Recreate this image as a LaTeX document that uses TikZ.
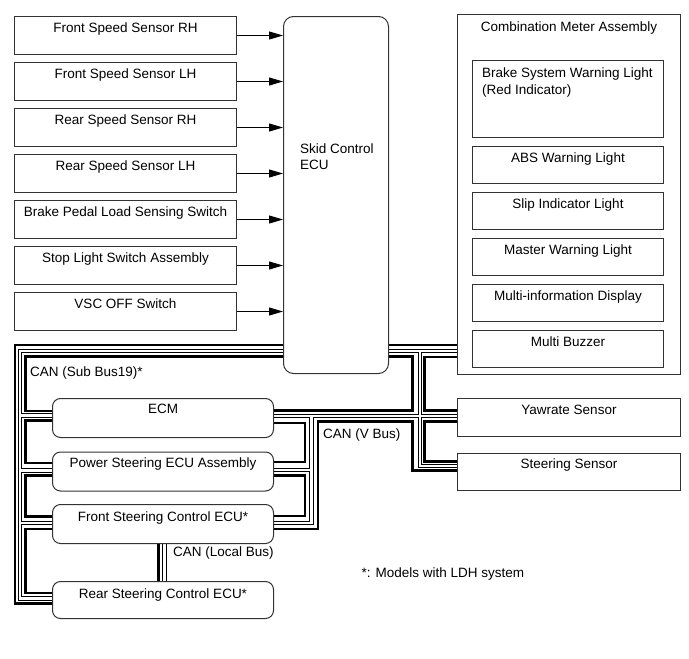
\documentclass[tikz,border=0pt]{standalone}
\usepackage{fontspec}
\setmainfont{Liberation Sans}
\usetikzlibrary{arrows.meta}
\pgfdeclarelayer{bg}
\pgfsetlayers{bg,main}
\newcommand\dblnet[1]{%
  \draw[#1] (ecu.west |- 0,350.8) -| (20,598.5) -- (rs.west |- 0,598.5);
  \draw[#1] (20,415.5) -- (ecm.west |- 0,415.5);
  \draw[#1] (20,470.5) -- (ps.west |- 0,470.5);
  \draw[#1] (20,523) -- (fs.west |- 0,523);
  \draw[#1] (ecu.east |- 0,350.8) -- (cm.west |- 0,350.8);
  \draw[#1] (420,350.8) |- (st.west |- 0,466);
  \draw[#1] (ecm.east |- 0,416) -- (yaw.west |- 0,416);
  \draw[#1] (311.5,416) |- (fs.east |- 0,523);
  \draw[#1] (311.5,470) -- (ps.east |- 0,470);
  \draw[#1] ([xshift=1.5pt]fs.south) -- ([xshift=1.5pt]rs.north);
}
\begin{document}
\begin{tikzpicture}[x=1pt,y=-1pt,
  font=\fontsize{13.5}{16.5}\selectfont,
  box/.style={draw=black!80, line width=1pt, fill=white, anchor=north west, inner xsep=0pt, inner ysep=0pt},
  rbox/.style={box, rounded corners=8pt},
  txt/.style={inner sep=0pt},
  arr/.style={line width=1pt, -{Triangle[length=14pt,width=8pt]}},
  thk/.style={line width=2.3pt, line join=miter},
  dblo/.style={line width=4.2pt, line join=miter},
  dbli/.style={line width=2.4pt, white, line join=miter}]
\useasboundingbox (0,0) rectangle (689,659);

% left inputs
\node[box, minimum width=222pt, text height=16pt, text depth=22pt] (s1) at (14,16) {Front Speed Sensor RH};
\node[box, minimum width=222pt, text height=16pt, text depth=22pt] (s2) at (14,62) {Front Speed Sensor LH};
\node[box, minimum width=222pt, text height=16pt, text depth=22pt] (s3) at (14,108) {Rear Speed Sensor RH};
\node[box, minimum width=222pt, text height=16pt, text depth=22pt] (s4) at (14,154) {Rear Speed Sensor LH};
\node[box, minimum width=222pt, text height=16pt, text depth=22pt] (s5) at (14,200) {Brake Pedal Load Sensing Switch};
\node[box, minimum width=222pt, text height=16pt, text depth=22pt] (s6) at (14,246) {Stop Light Switch Assembly};
\node[box, minimum width=222pt, text height=16pt, text depth=22pt] (s7) at (14,292) {VSC OFF Switch};

% skid control ECU
\node[box, rounded corners=10pt, minimum width=105pt, minimum height=357pt] (ecu) at (283,16) {};
\node[txt, anchor=north west, align=left, font=\fontsize{13.5}{16}\selectfont] (ecut) at (300,143.3) {Skid Control\\ECU};

% combination meter
\node[box, minimum width=223pt, text height=17pt, text depth=343pt] (cm) at (457,14) {Combination Meter Assembly};
\node[box, minimum width=191pt, minimum height=77pt] (bw) at (472,60) {};
\node[txt, anchor=north west, align=left, font=\fontsize{13.5}{17}\selectfont] (bwt) at (482,67.3) {Brake System Warning Light\\(Red Indicator)};
\node[box, minimum width=191pt, text height=16pt, text depth=21pt] (abs) at (472,146) {ABS Warning Light};
\node[box, minimum width=191pt, text height=16pt, text depth=21pt] (slip) at (472,192) {Slip Indicator Light};
\node[box, minimum width=191pt, text height=16pt, text depth=21pt] (mwl) at (472,238) {Master Warning Light};
\node[box, minimum width=191pt, text height=16pt, text depth=21pt] (mid) at (472,284) {Multi-information Display};
\node[box, minimum width=191pt, text height=15.5pt, text depth=21.5pt] (mb) at (472,330) {Multi Buzzer};

% right sensors
\node[box, minimum width=223pt, text height=16pt, text depth=22pt] (yaw) at (457,398) {Yawrate Sensor};
\node[box, minimum width=223pt, text height=15pt, text depth=22.5pt] (st) at (457,452.5) {Steering Sensor};

% bottom ECUs
\node[rbox, minimum width=221pt, text height=15pt, text depth=24pt] (ecm) at (52,398) {ECM};
\node[rbox, minimum width=221pt, text height=15pt, text depth=24pt] (ps) at (52,451.5) {Power Steering ECU Assembly};
\node[rbox, minimum width=221pt, text height=16.5pt, text depth=22.5pt] (fs) at (52,504) {Front Steering Control ECU*};
\node[rbox, minimum width=221pt, text height=16.5pt, text depth=20.5pt] (rs) at (52,581) {Rear Steering Control ECU*};

% labels
\node[txt, anchor=base west] (lsub) at (30,376.5) {CAN (Sub Bus19)*};
\node[txt, anchor=base west] (lv) at (323,438) {CAN (V Bus)};
\node[txt, anchor=base west] (ll) at (173,556.5) {CAN (Local Bus)};
\node[txt, anchor=base west] (note) at (361.5,577.5) {*: Models with LDH system};

% arrows
\foreach \s in {s1,s2,s3,s4,s5,s6,s7}
  \draw[arr] (\s.east) -- (\s.east -| ecu.west);

% buses
\begin{pgfonlayer}{bg}
\dblnet{dblo}
\dblnet{dbli}
\draw[thk] (ecu.west |- 0,345) -| (15,603.5) -- (rs.west |- 0,603.5);
\draw[thk] (ecu.west |- 0,356.5) -| (25.5,411) -- (ecm.west |- 0,411);
\draw[thk] (ecm.west |- 0,420.5) -| (25.5,463) -- (ps.west |- 0,463);
\draw[thk] (ps.west |- 0,475.5) -| (25.5,516.5) -- (fs.west |- 0,516.5);
\draw[thk] (fs.west |- 0,529) -| (25.5,593) -- (rs.west |- 0,593);
\draw[thk] (ecu.east |- 0,345) -- (cm.west |- 0,345);
\draw[thk] (ecu.east |- 0,356.5) -| (412.5,410.5) -- (ecm.east |- 0,410.5);
\draw[thk] (cm.west |- 0,357) -| (424.5,410.5) -- (yaw.west |- 0,410.5);
\draw[thk] (yaw.west |- 0,421.5) -| (424.5,461.5) -- (st.west |- 0,461.5);
\draw[thk] (st.west |- 0,470.5) -| (412.5,421.5) -| (318,529) -- (fs.east |- 0,529);
\draw[thk] (ecm.east |- 0,423) -| (305,462) -- (ps.east |- 0,462);
\draw[thk] (ps.east |- 0,475.5) -| (305,516) -- (fs.east |- 0,516);
\draw[thk] ([xshift=-4.5pt]fs.south) -- ([xshift=-4.5pt]rs.north);
\end{pgfonlayer}
\end{tikzpicture}
\end{document}
